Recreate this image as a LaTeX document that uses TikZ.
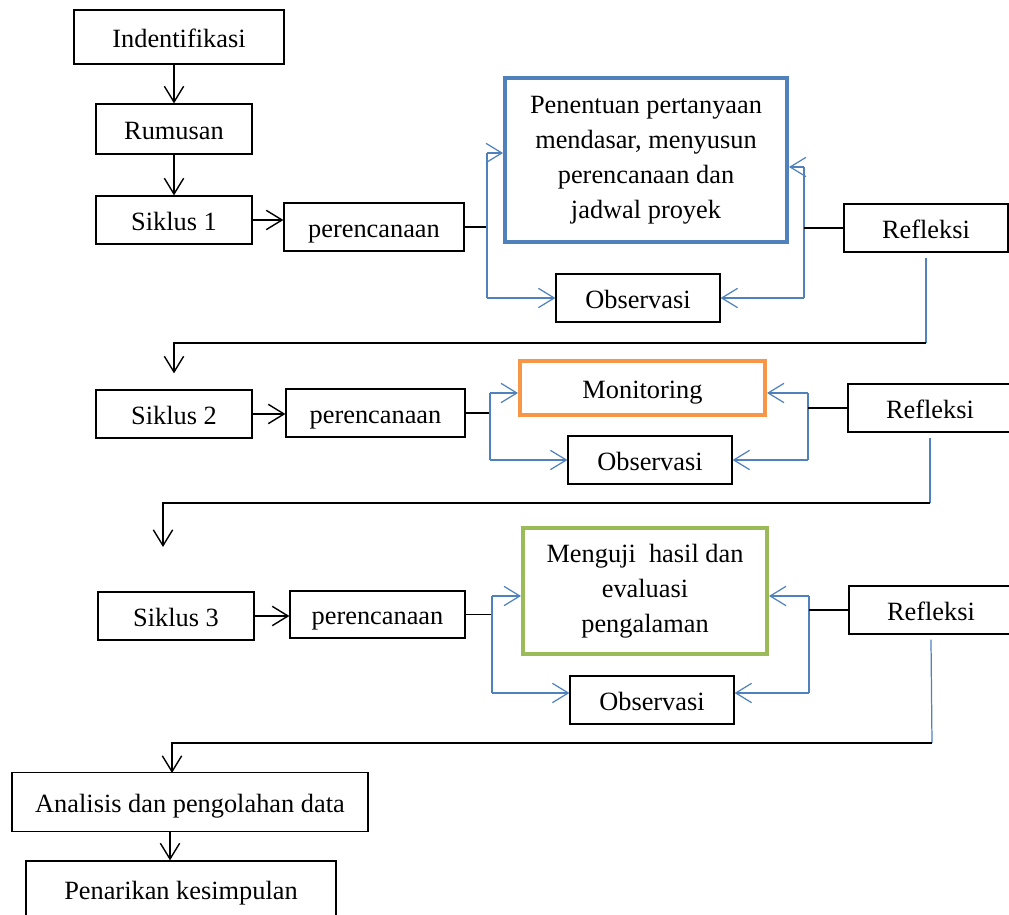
\documentclass[tikz,border=0pt]{standalone}
\usepackage{fontspec}
\setmainfont{Liberation Serif}
\usepackage{xcolor}
\definecolor{fbblue}{RGB}{79,129,189}
\definecolor{fborange}{RGB}{247,150,70}
\definecolor{fbgreen}{RGB}{155,187,89}
\usepackage{tikz}
\usetikzlibrary{arrows.meta}

\begin{document}
\begin{tikzpicture}[x=0.02cm, y=-0.02cm,
  plain/.style={draw=black, line width=0.7pt, inner sep=0pt, minimum height=0.96cm, font=\fontsize{15}{20}\selectfont, align=center},
  box/.style={plain, text height=11.4pt, text depth=0pt},
  keybox/.style={plain, line width=2.3pt},
  link/.style={black, line width=0.8pt},
  arr/.style={link, -{Straight Barb[length=9pt,width=11pt]}},
  bus/.style={fbblue, line width=0.7pt},
  barr/.style={bus, -{Straight Barb[length=9pt,width=11pt]}}]
  \useasboundingbox (0,0) rectangle (1009,915);
  \clip (0,0) rectangle (1009,915);

  % --- Start ---
  \node[box, minimum width=4.2cm, minimum height=1.08cm] (ident) at (179,37) {Indentifikasi};
  \node[box, minimum width=3.12cm, minimum height=1.0cm] (rumus) at (174,129) {Rumusan};
  \node[box, minimum width=3.12cm] (sik1) at (174,220) {Siklus 1};
  \draw[arr] (ident.south -| rumus) -- (rumus);
  \draw[arr] (rumus) -- (sik1);

  % --- Siklus 1 ---
  \node[box, minimum width=3.6cm] (per1) at (374,227) {perencanaan};
  \node[keybox, draw=fbblue, minimum width=5.64cm, minimum height=3.28cm] (tanya) at (646,160) {Penentuan pertanyaan\\ mendasar, menyusun\\ perencanaan dan\\ jadwal proyek};
  \node[box, minimum width=3.28cm] (obs1) at (638,298) {Observasi};
  \node[box, minimum width=3.28cm] (ref1) at (926,228) {Refleksi};

  \coordinate (a1) at (487,153);
  \coordinate (b1) at (487,298);
  \coordinate (c1) at (804,167);
  \coordinate (d1) at (804,298);
  \coordinate (r1) at (926,343);

  \draw[arr] (sik1.east) -- (sik1.east -| per1.west);
  \draw[link] (per1.east) -- (per1.east -| a1);
  \draw[bus] (a1) -- (b1);
  \draw[barr] (a1) -- (a1 -| tanya.west);
  \draw[barr] (b1) -- (obs1.west);
  \draw[bus] (c1) -- (d1);
  \draw[barr] (c1) -- (c1 -| tanya.east);
  \draw[barr] (d1) -- (obs1.east);
  \draw[link] (ref1.west) -- (ref1.west -| c1);
  \draw[bus] ([yshift=-0.1cm]ref1.south) -- (r1);

  % --- Siklus 2 ---
  \node[box, minimum width=3.12cm] (sik2) at (174,414) {Siklus 2};
  \node[box, minimum width=3.58cm] (per2) at (375.5,413) {perencanaan};
  \node[box, line width=2.3pt, draw=fborange, minimum width=4.9cm, minimum height=1.08cm] (monit) at (642.5,388) {Monitoring};
  \node[box, minimum width=3.28cm] (obs2) at (650,460) {Observasi};
  \node[box, minimum width=3.28cm] (ref2) at (930,408) {Refleksi};
  \draw[arr, shorten >=0.32cm] (r1) -| (sik2.north);

  \coordinate (a2) at (490,393);
  \coordinate (b2) at (490,460);
  \coordinate (c2) at (808,393);
  \coordinate (d2) at (808,460);
  \coordinate (r2) at (930,503);
  \coordinate (e2) at (163,547);

  \draw[arr] (sik2.east) -- (sik2.east -| per2.west);
  \draw[link] (per2.east) -- (per2.east -| a2);
  \draw[bus] (a2) -- (b2);
  \draw[barr] (a2) -- (a2 -| monit.west);
  \draw[barr] (b2) -- (obs2.west);
  \draw[bus] (c2) -- (d2);
  \draw[barr] (c2) -- (c2 -| monit.east);
  \draw[barr] (d2) -- (obs2.east);
  \draw[link] (ref2.west) -- (ref2.west -| c2);
  \draw[bus] ([yshift=-0.1cm]ref2.south) -- (r2);
  \draw[arr] (r2) -| (e2);

  % --- Siklus 3 ---
  \node[box, minimum width=3.12cm] (sik3) at (176,616) {Siklus 3};
  \node[box, minimum width=3.5cm, minimum height=0.94cm] (per3) at (377.5,614.5) {perencanaan};
  \node[keybox, draw=fbgreen, minimum width=4.88cm, minimum height=2.52cm] (uji) at (645,591) {\rule{0pt}{8pt}Menguji~ hasil dan\\ evaluasi\\ pengalaman};
  \node[box, minimum width=3.28cm] (obs3) at (652,700) {Observasi};
  \node[box, minimum width=3.28cm] (ref3) at (931,610) {Refleksi};

  \coordinate (a3) at (492,596);
  \coordinate (b3) at (492,693);
  \coordinate (c3) at (809,596);
  \coordinate (d3) at (809,693);
  \coordinate (r3) at (932,743);
  \coordinate (e3) at (172,773);

  \draw[arr] (sik3.east) -- (sik3.east -| per3.west);
  \draw[link] (per3.east) -- (per3.east -| a3);
  \draw[bus] (a3) -- (b3);
  \draw[barr] (a3) -- (a3 -| uji.west);
  \draw[barr] (b3) -- (b3 -| obs3.west);
  \draw[bus] (c3) -- (d3);
  \draw[barr] (c3) -- (c3 -| uji.east);
  \draw[barr] (d3) -- (d3 -| obs3.east);
  \draw[link] (ref3.west) -- (ref3.west -| c3);
  \draw[bus] ([yshift=-0.1cm]ref3.south) -- (r3);
  \draw[arr] (r3) -| (e3);

  % --- End ---
  \node[box, minimum width=7.12cm, minimum height=1.18cm] (anal) at (190,802) {Analisis dan pengolahan data};
  \node[box, minimum width=6.2cm, minimum height=1.12cm] (tarik) at (181,889) {Penarikan kesimpulan};
  \draw[arr] ([xshift=-0.4cm]anal.south) -- ([xshift=-0.4cm]anal.south |- tarik.north);
\end{tikzpicture}
\end{document}
